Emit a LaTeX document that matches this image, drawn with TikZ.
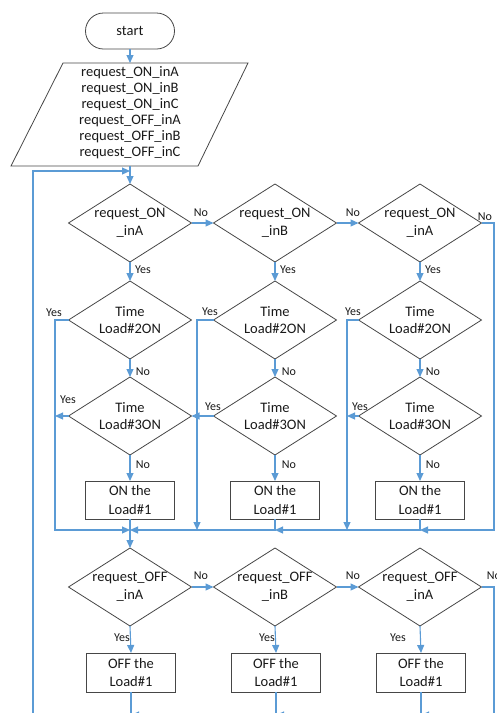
\documentclass[tikz,border=0pt]{standalone}
\usepackage{fontspec}
\setmainfont{Carlito}
\usetikzlibrary{shapes.geometric,arrows.meta}
\definecolor{conn}{RGB}{91,155,213}
\definecolor{outl}{RGB}{70,70,70}
\definecolor{txt}{RGB}{25,25,25}
\newcommand{\zb}[1]{\makebox[0pt]{#1}}
\begin{document}
\begin{tikzpicture}[x=1pt,y=-1pt,
  dec/.style={diamond, draw=outl, line width=0.8pt, minimum width=123pt, minimum height=78pt,
    inner sep=0pt, outer sep=0pt, aspect=1.58, align=center, text=txt,
    font=\fontsize{14.5}{17.5}\selectfont},
  box/.style={rectangle, draw=outl, line width=0.8pt, minimum width=89pt, minimum height=38pt,
    inner sep=0pt, outer sep=0pt, align=center, text=txt, font=\fontsize{14.5}{18.5}\selectfont},
  term/.style={rectangle, rounded corners=18pt, draw=outl, line width=0.8pt, minimum width=89pt,
    minimum height=36pt, inner sep=0pt, outer sep=0pt, text=txt, font=\fontsize{14.5}{17}\selectfont},
  arr/.style={draw=conn, line width=1.1pt, -{Triangle[length=8pt,width=7pt]}},
  ln/.style={draw=conn, line width=1.1pt},
  lab/.style={inner sep=0pt, text=txt, font=\fontsize{12}{12}\selectfont}
]
\useasboundingbox (0,0) rectangle (496,713);

% start and input
\node[term] (start) at (130,31) {start};
\coordinate (pTL) at (63,63);
\coordinate (pTR) at (248,63);
\coordinate (pBR) at (198,166);
\coordinate (pBL) at (11,166);
\draw[outl, line width=0.8pt] (pBL) -- (pTL) -- (pTR) -- (pBR) -- cycle;
\coordinate (pTop) at (130,63);
\coordinate (pBot) at (130,166);
\node[align=center, inner sep=0pt, text=txt, font=\fontsize{14.5}{16}\selectfont] (inp) at (130,113)
  {request\_ON\_inA\\request\_ON\_inB\\request\_ON\_inC\\request\_OFF\_inA\\request\_OFF\_inB\\request\_OFF\_inC};

% ON section
\node[dec] (D1a) at (130,223) {\zb{request\_ON}\\\zb{\_inA}};
\node[dec] (D1b) at (275,223) {\zb{request\_ON}\\\zb{\_inB}};
\node[dec] (D1c) at (420,223) {\zb{request\_ON}\\\zb{\_inA}};
\node[dec] (D2a) at (130,320) {\zb{Time}\\\zb{Load\#2ON}};
\node[dec] (D2b) at (275,320) {\zb{Time}\\\zb{Load\#2ON}};
\node[dec] (D2c) at (420,320) {\zb{Time}\\\zb{Load\#2ON}};
\node[dec] (D3a) at (130,416) {\zb{Time}\\\zb{Load\#3ON}};
\node[dec] (D3b) at (275,416) {\zb{Time}\\\zb{Load\#3ON}};
\node[dec] (D3c) at (420,416) {\zb{Time}\\\zb{Load\#3ON}};
\node[box] (B1a) at (130,500) {ON the\\Load\#1};
\node[box] (B1b) at (275,500) {ON the\\Load\#1};
\node[box] (B1c) at (420,500) {ON the\\Load\#1};

% OFF section
\node[dec] (D4a) at (130,587) {\zb{request\_OFF}\\\zb{\_inA}};
\node[dec] (D4b) at (275,587) {\zb{request\_OFF}\\\zb{\_inB}};
\node[dec] (D4c) at (420,587) {\zb{request\_OFF}\\\zb{\_inA}};
\node[box, minimum height=39pt] (B2a) at (131,672.5) {OFF the\\Load\#1};
\node[box, minimum height=39pt] (B2b) at (276,672.5) {OFF the\\Load\#1};
\node[box, minimum height=39pt] (B2c) at (421,672.5) {OFF the\\Load\#1};

% coordinates
\coordinate (lp) at (130,171);
\coordinate (lpb) at (33,740);
\coordinate (rN1) at (494,223);
\coordinate (m1) at (130,530);
\coordinate (m2) at (275,530);
\coordinate (m3) at (420,530);
\coordinate (y2a) at (55,320);
\coordinate (y2b) at (197,320);
\coordinate (y2c) at (347,320);
\coordinate (m2b) at (197,530);
\coordinate (m3c) at (347,530);
\coordinate (y3a) at (55,416);
\coordinate (y3c) at (347,416);
\coordinate (rN2) at (494,587);
\coordinate (b1) at (131,715);
\coordinate (b2) at (276,715);
\coordinate (b3) at (421,715);
\coordinate (bend) at (131,740);

% connectors top
\draw[arr] (start) -- (pTop);
\draw[arr] (pBot) -- (D1a.north);
\draw[arr] (lpb) |- (lp);

\draw[arr] (D1a.east) -- (D1b.west);
\draw[arr] (D1b.east) -- (D1c.west);
\draw[arr] (D1c.east) -- (rN1) |- (m3);

\draw[arr] (D1a.south) -- (D2a.north);
\draw[arr] (D1b.south) -- (D2b.north);
\draw[arr] (D1c.south) -- (D2c.north);
\draw[arr] (D2a.south) -- (D3a.north);
\draw[arr] (D2b.south) -- (D3b.north);
\draw[arr] (D2c.south) -- (D3c.north);
\draw[arr] (D3a.south) -- (B1a.north);
\draw[arr] (D3b.south) -- (B1b.north);
\draw[arr] (D3c.south) -- (B1c.north);

\draw[arr] (D2a.west) -- (y2a) |- (m1);
\draw[arr] (D2b.west) -- (y2b) -- (m2b);
\draw[arr] (D2c.west) -- (y2c) -- (m3c);
\draw[arr] (D3a.west) -- (y3a);
\draw[arr] (D3b.west) -- (D3a.east);
\draw[arr] (D3c.west) -- (y3c);

\draw[arr] (B1c.south) |- (m2);
\draw[arr] (B1b.south) |- (m1);
\draw[arr] (B1a.south) -- (D4a.north);

% connectors bottom
\draw[arr] (D4a.east) -- (D4b.west);
\draw[arr] (D4b.east) -- (D4c.west);
\draw[arr] (D4c.east) -- (rN2) |- (b3);
\draw[arr] (D4a.south) -- (B2a.north);
\draw[arr] (D4b.south) -- (B2b.north);
\draw[arr] (D4c.south) -- (B2c.north);
\draw[arr] (B2c.south) |- (b2);
\draw[arr] (B2b.south) |- (b1);
\draw[ln] (B2a.south) -- (bend);

% labels
\node[lab] (n1) at (201,213) {No};
\node[lab] (n2) at (353,213) {No};
\node[lab] (n3) at (485,217) {No};
\node[lab] (y1a) at (143,270) {Yes};
\node[lab] (y1b) at (288,270) {Yes};
\node[lab] (y1c) at (433,270) {Yes};
\node[lab] (y2la) at (54,313) {Yes};
\node[lab] (y2lb) at (210,312) {Yes};
\node[lab] (y2lc) at (353,312) {Yes};
\node[lab] (n2a) at (143,372) {No};
\node[lab] (n2b) at (289,372) {No};
\node[lab] (n2c) at (433,372) {No};
\node[lab] (y3la) at (68,400) {Yes};
\node[lab] (y3lb) at (213,407) {Yes};
\node[lab] (y3lc) at (360,407) {Yes};
\node[lab] (n3a) at (143,465) {No};
\node[lab] (n3b) at (289,465) {No};
\node[lab] (n3c) at (433,465) {No};
\node[lab] (n4a) at (201,576) {No};
\node[lab] (n4b) at (353,576) {No};
\node[lab] (n4c) at (494,576) {No};
\node[lab] (y4a) at (122,638) {Yes};
\node[lab] (y4b) at (267,638) {Yes};
\node[lab] (y4c) at (398,638) {Yes};
\end{tikzpicture}
\end{document}
